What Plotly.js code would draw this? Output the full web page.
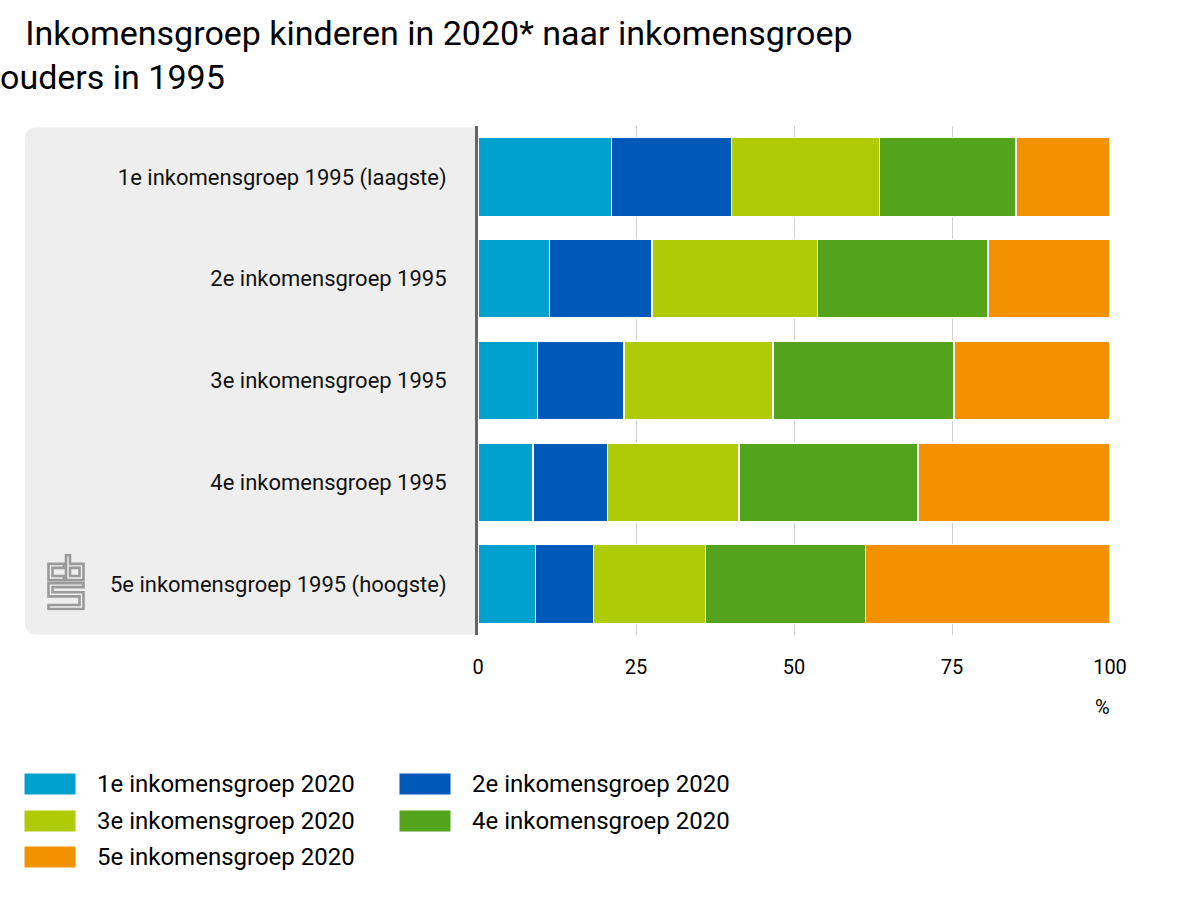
<!DOCTYPE html>
<html>
<head>
<meta charset="utf-8">
<script src="https://cdn.plot.ly/plotly-3.0.1.min.js"></script>
<style>html,body{margin:0;padding:0;background:#fff;}#chart{width:1200px;height:900px;}</style>
</head>
<body>
<div id="chart"></div>
<script>
// ---- data ----
var categories = [
  "1e inkomensgroep 1995 (laagste)",
  "2e inkomensgroep 1995",
  "3e inkomensgroep 1995",
  "4e inkomensgroep 1995",
  "5e inkomensgroep 1995 (hoogste)"
];
var seriesNames = [
  "1e inkomensgroep 2020",
  "2e inkomensgroep 2020",
  "3e inkomensgroep 2020",
  "4e inkomensgroep 2020",
  "5e inkomensgroep 2020"
];
var groep1 = [21.1, 11.3, 9.4, 8.7, 9.1];
var groep2 = [19.0, 16.2, 13.7, 11.8, 9.2];
var groep3 = [23.4, 26.2, 23.6, 20.8, 17.7];
var groep4 = [21.6, 27.0, 28.6, 28.3, 25.3];
var groep5 = [14.9, 19.3, 24.7, 30.4, 38.7];
var xTicks = [0, 25, 50, 75, 100];

// ---- style ----
var seriesValues = [groep1, groep2, groep3, groep4, groep5];
var colors = ["#00a1cd", "#0058b8", "#afcb05", "#53a31d", "#f39200"];
var FONT = "Roboto, 'Noto Sans', Arial, sans-serif";

var W = 1200, H = 900;
var ml = 478, mr = 90, mt = 125.5, mb = 264.5;
var pw = W - ml - mr, ph = H - mt - mb;
function px2x(px) { return (px - ml) / pw; }
function py2y(py) { return (H - mb - py) / ph; }

var traces = seriesValues.map(function (vals, i) {
  return {
    type: "bar",
    orientation: "h",
    name: seriesNames[i],
    y: categories,
    x: vals,
    marker: { color: colors[i], line: { color: "#ffffff", width: 1.5 } },
    hoverinfo: "name+x"
  };
});

// gray rounded panel behind the category labels
var x0 = px2x(25), x1 = px2x(478), y0 = py2y(635), y1 = py2y(127);
var rx = 12 / pw, ry = 12 / ph;
var panelPath = "M" + (x0 + rx) + "," + y1 +
  " L" + x1 + "," + y1 +
  " L" + x1 + "," + y0 +
  " L" + (x0 + rx) + "," + y0 +
  " Q" + x0 + "," + y0 + " " + x0 + "," + (y0 + ry) +
  " L" + x0 + "," + (y1 - ry) +
  " Q" + x0 + "," + y1 + " " + (x0 + rx) + "," + y1 + " Z";

// legend built from names/colors (two columns, row-major)
var annotations = [];
seriesNames.forEach(function (nm, i) {
  var col = i % 2, row = Math.floor(i / 2);
  var sx = col === 0 ? 50 : 425;
  var tx = col === 0 ? 95 : 470;
  var cy = 785 + row * 36.5;
  annotations.push({
    xref: "paper", yref: "paper", x: px2x(sx), y: py2y(cy),
    xanchor: "center", yanchor: "middle", text: "\u00a0",
    width: 50, height: 20, borderpad: 0, bgcolor: colors[i],
    showarrow: false, font: { size: 2 }
  });
  annotations.push({
    xref: "paper", yref: "paper", x: px2x(tx), y: py2y(cy),
    xanchor: "left", yanchor: "middle", text: nm,
    showarrow: false, font: { family: FONT, size: 24, color: "#000" }
  });
});
annotations.push({
  xref: "paper", yref: "paper", x: px2x(1102), y: py2y(708),
  xanchor: "center", yanchor: "middle", text: "%",
  showarrow: false, font: { family: FONT, size: 20, color: "#000" }
});

var logoSvg = '<svg xmlns="http://www.w3.org/2000/svg" viewBox="0 0 38 56">' +
  '<g fill="none" stroke="#9a9a9a" stroke-width="2.6">' +
  '<path d="M17,10 H1.5 V26 H17 V22 H5.5 V14 H17 Z"/>' +
  '<path d="M19,1.5 H23 V10 H36.5 V26 H19 Z"/>' +
  '<path d="M23,14 H32.5 V22 H23 Z"/>' +
  '<path d="M1.5,29 H36.5 V33 H5.5 V38 H36.5 V54.5 H1.5 V50.5 H32.5 V42 H1.5 Z"/>' +
  '</g></svg>';
var logoSrc = "data:image/svg+xml;base64," + btoa(logoSvg);

var layout = {
  width: W, height: H,
  margin: { l: ml, r: mr, t: mt, b: mb, pad: 0 },
  paper_bgcolor: "#ffffff",
  plot_bgcolor: "#ffffff",
  font: { family: FONT, color: "#000" },
  title: {
    text: "\u200b\u00a0\u00a0\u00a0Inkomensgroep kinderen in 2020* naar inkomensgroep<br>ouders in 1995",
    xref: "container", yref: "container",
    x: 0, xanchor: "left", y: 1 - 45 / 900, yanchor: "top",
    pad: { l: 0, t: 0 },
    font: { family: FONT, size: 34, color: "#000" }
  },
  barmode: "stack",
  bargap: 0.225,
  showlegend: false,
  xaxis: {
    range: [0, 100],
    tickvals: xTicks,
    ticktext: xTicks.map(String),
    showgrid: true, gridcolor: "#d0d0d0", gridwidth: 1,
    zeroline: false, showline: false,
    ticks: "", ticklabelstandoff: 18,
    tickfont: { family: FONT, size: 20, color: "#000" },
    fixedrange: true
  },
  yaxis: {
    type: "category",
    categoryorder: "array", categoryarray: categories,
    autorange: "reversed",
    showgrid: false, zeroline: false,
    showline: true, linecolor: "#666666", linewidth: 3,
    ticks: "", ticklabelstandoff: 24,
    tickfont: { family: FONT, size: 22, color: "#111" },
    fixedrange: true
  },
  shapes: [{
    type: "path", xref: "paper", yref: "paper", path: panelPath,
    fillcolor: "#eeeeee", line: { width: 0 }, layer: "below"
  }],
  images: [{
    source: logoSrc, xref: "paper", yref: "paper",
    x: px2x(47), y: py2y(554), sizex: 38 / pw, sizey: 57 / ph,
    xanchor: "left", yanchor: "top", sizing: "stretch", layer: "above"
  }],
  annotations: annotations
};

Plotly.newPlot("chart", traces, layout, { displayModeBar: false, staticPlot: true });
</script>
</body>
</html>
